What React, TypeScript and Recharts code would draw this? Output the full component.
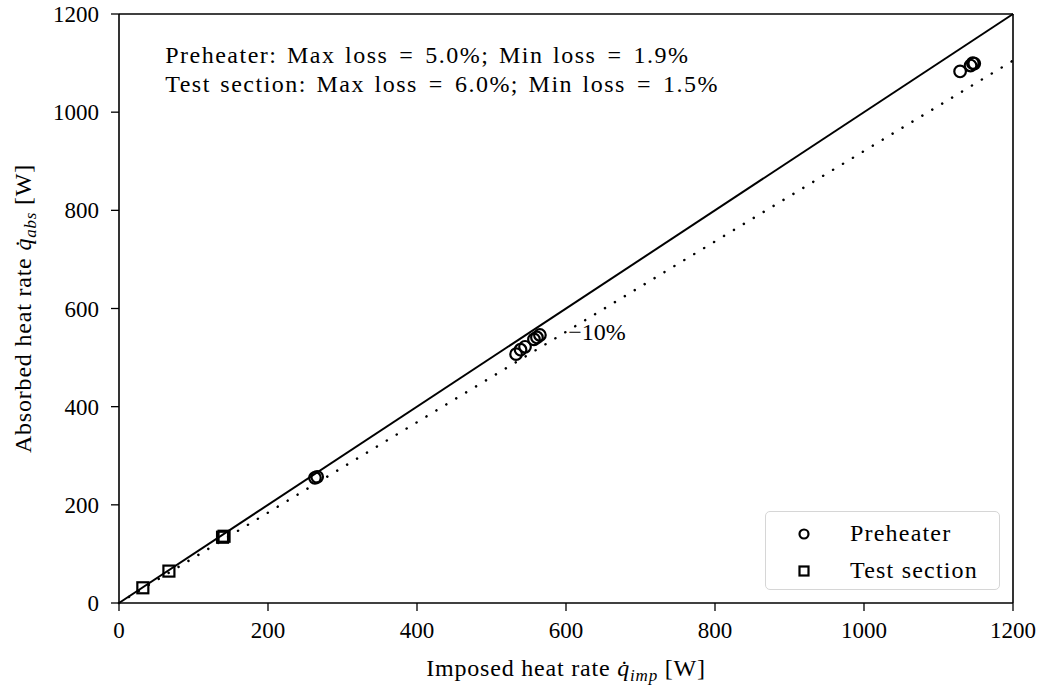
import React from 'react';
import {
  ScatterChart,
  Scatter,
  XAxis,
  YAxis,
  ReferenceLine,
  ReferenceDot,
} from 'recharts';

// Values
const preheaterImposed = [1129, 1143, 1146, 1148, 533, 539, 545, 557, 561, 565, 263, 266];
const preheaterAbsorbed = [1083, 1095, 1100, 1099, 507, 516, 522, 537, 541, 546, 255, 257];
const testImposed = [32, 67, 139, 141];
const testAbsorbed = [31, 65, 134, 136];
const axisTicks = [0, 200, 400, 600, 800, 1000, 1200];
const lossLine = [0, 1105]; // dotted -10% line at x = 0 and x = 1200
const notes = [
  'Preheater: Max loss = 5.0%; Min loss = 1.9%',
  'Test section: Max loss = 6.0%; Min loss = 1.5%',
];
const legendNames = ['Preheater', 'Test section'];

const FONT = '"Liberation Serif", "DejaVu Serif", serif';

const preheaterData = preheaterImposed.map((x, i) => ({ x, y: preheaterAbsorbed[i] }));
const testData = testImposed.map((x, i) => ({ x, y: testAbsorbed[i] }));

const CircleMark = (props: any) => (
  <circle cx={props.cx} cy={props.cy} r={5.8} fill="none" stroke="#000" strokeWidth={2.2} />
);

const SquareMark = (props: any) => (
  <rect x={props.cx - 5.5} y={props.cy - 5.5} width={11} height={11} fill="none" stroke="#000" strokeWidth={2.2} />
);

// the '=' in the notes gets wider spacing, like math mode
const renderNote = (s: string) => {
  const parts = s.split(' = ');
  return parts.map((part, i) =>
    i === 0 ? (
      <tspan key={i}>{part}</tspan>
    ) : (
      <React.Fragment key={i}>
        <tspan dx={11}>=</tspan>
        <tspan dx={11}>{part}</tspan>
      </React.Fragment>
    )
  );
};

const LegendBox = () => (
  <div
    style={{
      position: 'absolute',
      left: 765,
      top: 511,
      width: 235,
      height: 79,
      border: '1.5px solid #d6d6d6',
      borderRadius: 5,
      background: '#fff',
      fontFamily: FONT,
      fontSize: 24,
      letterSpacing: 1.2,
      boxSizing: 'border-box',
      paddingTop: 3,
    }}
  >
    {legendNames.map((name, i) => (
      <div key={name} style={{ display: 'flex', alignItems: 'center', height: 37 }}>
        <svg width={84} height={20}>
          {i === 0 ? (
            <circle cx={38} cy={10} r={4.5} fill="none" stroke="#000" strokeWidth={2.2} />
          ) : (
            <rect x={33.5} y={5.5} width={9} height={9} fill="none" stroke="#000" strokeWidth={2.2} />
          )}
        </svg>
        <span>{name}</span>
      </div>
    ))}
  </div>
);

const XLabel = (props: any) => {
  const { viewBox } = props;
  const cx = viewBox.x + viewBox.width / 2;
  return (
    <text x={cx} y={viewBox.y + 73} textAnchor="middle" fontFamily={FONT} fontSize={24} letterSpacing={0.8} fill="#000">
      Imposed heat rate <tspan fontStyle="italic">q̇</tspan>
      <tspan fontStyle="italic" fontSize={17} dy={5}>imp</tspan>
      <tspan dy={-5}> [W]</tspan>
    </text>
  );
};

const YLabel = (props: any) => {
  const { viewBox } = props;
  const cy = viewBox.y + viewBox.height / 2;
  return (
    <text
      x={31}
      y={cy}
      transform={`rotate(-90 31 ${cy})`}
      textAnchor="middle"
      fontFamily={FONT}
      fontSize={24}
      letterSpacing={0.8}
      fill="#000"
    >
      Absorbed heat rate <tspan fontStyle="italic">q̇</tspan>
      <tspan fontStyle="italic" fontSize={17} dy={5}>abs</tspan>
      <tspan dy={-5}> [W]</tspan>
    </text>
  );
};

export default function App() {
  const tickStyle = { fontFamily: FONT, fontSize: 23, fill: '#000' };
  return (
    <div style={{ position: 'absolute', left: 0, top: 0, width: 1046, height: 691, background: '#fff' }}>
      <ScatterChart width={1046} height={691} margin={{ top: 14, right: 33, left: 0, bottom: 0 }}>
        <XAxis
          type="number"
          dataKey="x"
          domain={[0, 1200]}
          ticks={axisTicks}
          allowDataOverflow
          height={88}
          axisLine={{ stroke: '#000', strokeWidth: 1.6 }}
          tickLine={{ stroke: '#000', strokeWidth: 1.3 }}
          tickSize={8}
          tick={tickStyle}
          tickMargin={11}
          label={<XLabel />}
        />
        <YAxis
          type="number"
          dataKey="y"
          domain={[0, 1200]}
          ticks={axisTicks}
          allowDataOverflow
          width={119}
          axisLine={{ stroke: '#000', strokeWidth: 1.6 }}
          tickLine={{ stroke: '#000', strokeWidth: 1.3 }}
          tickSize={8}
          tick={tickStyle}
          tickMargin={12}
          label={<YLabel />}
        />
        <ReferenceLine y={1200} stroke="#000" strokeWidth={1.6} />
        <ReferenceLine x={1200} stroke="#000" strokeWidth={1.6} />
        <ReferenceLine
          segment={[{ x: 0, y: 0 }, { x: 1200, y: 1200 }]}
          stroke="#000"
          strokeWidth={2}
        />
        <ReferenceLine
          segment={[{ x: 0, y: lossLine[0] }, { x: 1200, y: lossLine[1] }]}
          stroke="#000"
          strokeWidth={2.5}
          strokeDasharray="0.1 11.5"
          strokeLinecap="round"
        />
        <ReferenceDot
          x={600}
          y={553}
          r={0}
          label={{ value: '−10%', position: 'center', dx: 31, fontFamily: FONT, fontSize: 24, fill: '#000' }}
        />
        <ReferenceDot
          x={62}
          y={1100}
          r={0}
          label={(p: any) => (
            <text
              x={p.viewBox.x}
              y={p.viewBox.y}
              fontFamily={FONT}
              fontSize={24}
              letterSpacing={1.5}
              wordSpacing={2}
              fill="#000"
            >
              <tspan x={p.viewBox.x}>{renderNote(notes[0])}</tspan>
              <tspan x={p.viewBox.x} dy={29}>{renderNote(notes[1])}</tspan>
            </text>
          )}
        />
        <Scatter name="Preheater" data={preheaterData} shape={<CircleMark />} isAnimationActive={false} />
        <Scatter name="Test section" data={testData} shape={<SquareMark />} isAnimationActive={false} />
      </ScatterChart>
      <LegendBox />
    </div>
  );
}
